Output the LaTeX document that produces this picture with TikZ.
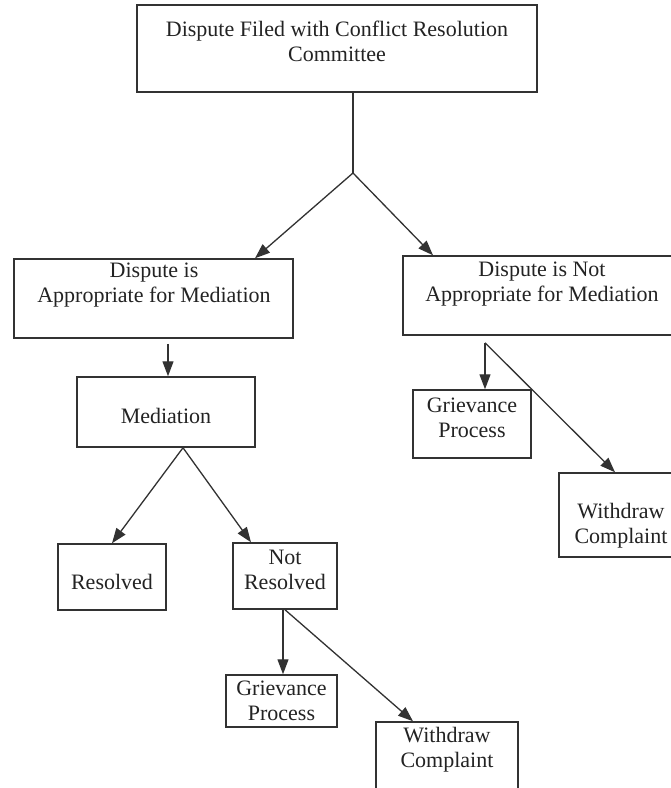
\documentclass[tikz,border=0pt]{standalone}
\usepackage{fontspec}
\setmainfont{Liberation Serif}
\usetikzlibrary{arrows.meta}
\definecolor{ink}{RGB}{50,50,50}
\definecolor{txtc}{RGB}{35,35,35}
\tikzset{
  box/.style={draw=ink, line width=1.5pt, inner sep=0pt, fill=none},
  txt/.style={inner sep=0pt, align=center, text=txtc, font=\fontsize{22}{25}\selectfont},
  conn/.style={draw=ink, line width=1.3pt},
  arr/.style={conn, -{Triangle[length=15pt,width=11pt]}}
}
\begin{document}
\begin{tikzpicture}[x=1pt,y=-1pt]
\useasboundingbox (0,0) rectangle (671,788);
\clip (0,0) rectangle (671,788);
\fill[white] (0,0) rectangle (671,788);
% boxes
\node[box, minimum width=400pt, minimum height=87pt] (top) at (337,48.5) {};
\node[box, minimum width=279pt, minimum height=79pt] (A) at (153.5,298.5) {};
\node[box, minimum width=280pt, minimum height=79pt] (B) at (543,295.5) {};
\node[box, minimum width=178pt, minimum height=70pt] (M) at (166,412) {};
\node[box, minimum width=108pt, minimum height=66pt] (R) at (112,577) {};
\node[box, minimum width=104pt, minimum height=66pt] (NR) at (285,576) {};
\node[box, minimum width=111pt, minimum height=52pt] (G1) at (281.5,701) {};
\node[box, minimum width=142pt, minimum height=80pt] (W1) at (447,762) {};
\node[box, minimum width=118pt, minimum height=68pt] (G2) at (472,424) {};
\node[box, minimum width=124pt, minimum height=84pt] (W2) at (621,515) {};
% texts
\node[txt] (topt) at (337,41.5) {Dispute Filed with Conflict Resolution\\Committee};
\node[txt] (At) at (154,285.5) {Dispute is\\Appropriate for Mediation};
\node[txt] (Bt) at (542,284.5) {Dispute is Not\\Appropriate for Mediation};
\node[txt] (Mt) at (166,416) {Mediation};
\node[txt] (Rt) at (112,582) {Resolved};
\node[txt] (NRt) at (285,569.5) {Not\\Resolved};
\node[txt] (G1t) at (281.5,701) {Grievance\\Process};
\node[txt] (W1t) at (447,750) {Withdraw\\Complaint};
\node[txt] (G2t) at (472,417.5) {Grievance\\Process};
\node[txt] (W2t) at (621,525.5) {Withdraw\\Complaint};
% connectors
\coordinate (j) at (353,173);
\draw[conn] (top.south -| j) -- (j);
\draw[arr] (j) -- ([xshift=101.5pt]A.north);
\draw[arr] (j) -- ([xshift=-110pt]B.north);
\draw[arr] ([xshift=14.5pt,yshift=-5pt]A.south) -- ([xshift=2pt]M.north);
\draw[arr] ([xshift=17pt]M.south) -- (R.north);
\draw[arr] ([xshift=17pt]M.south) -- ([xshift=-34pt]NR.north);
\draw[arr] ([xshift=-2pt]NR.south) -- ([xshift=1.5pt]G1.north);
\draw[arr] (NR.south) -- ([xshift=-34pt]W1.north);
\draw[arr] ([xshift=-58pt,yshift=-7pt]B.south) -- ([xshift=13pt]G2.north);
\draw[arr] ([xshift=-58pt,yshift=-7pt]B.south) -- ([xshift=-6pt]W2.north);
\end{tikzpicture}
\end{document}
